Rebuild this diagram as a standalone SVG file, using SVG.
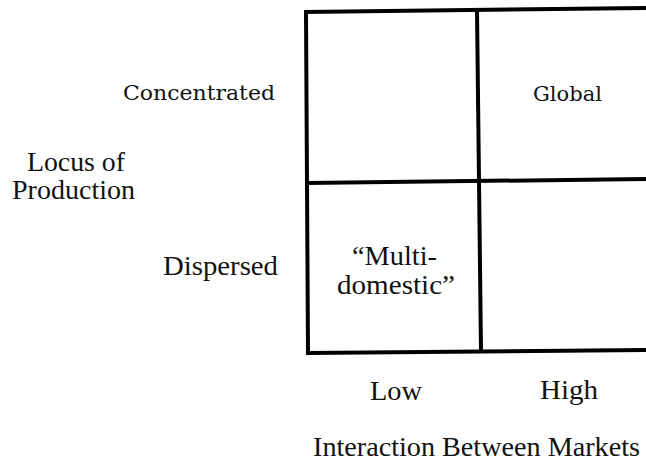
<svg xmlns="http://www.w3.org/2000/svg" width="646" height="468" viewBox="0 0 646 468">
<style>
.g{stroke:#000;stroke-width:4;fill:none;stroke-linecap:square}
.t{font-family:"Liberation Serif","Times New Roman",serif;font-size:27px;fill:#111}
.b{font-family:"DejaVu Serif","Liberation Serif",serif;font-size:20px;fill:#111}
</style>
<rect width="646" height="468" fill="#fff"/>
<g id="grid">
<line class="g" x1="306" y1="12" x2="646" y2="8"/>
<line class="g" x1="306" y1="12" x2="308" y2="353"/>
<line class="g" x1="477" y1="10" x2="481" y2="351"/>
<line class="g" x1="307" y1="183" x2="646" y2="179"/>
<line class="g" x1="308" y1="353" x2="646" y2="350"/>
</g>
<g id="cell-global"><text class="b" x="533" y="101" textLength="69" lengthAdjust="spacingAndGlyphs">Global</text></g>
<g id="cell-multidomestic">
<text class="t" x="352" y="265" textLength="85" lengthAdjust="spacingAndGlyphs">“Multi-</text>
<text class="t" x="337" y="294" textLength="118" lengthAdjust="spacingAndGlyphs">domestic”</text>
</g>
<g id="row-labels">
<text class="b" x="123" y="100" textLength="152" lengthAdjust="spacingAndGlyphs">Concentrated</text>
<text class="t" x="27" y="171" textLength="98" lengthAdjust="spacingAndGlyphs">Locus of</text>
<text class="t" x="12" y="199" textLength="123" lengthAdjust="spacingAndGlyphs">Production</text>
<text class="t" x="163" y="275" textLength="115" lengthAdjust="spacingAndGlyphs">Dispersed</text>
</g>
<g id="col-labels">
<text class="t" x="370" y="400" textLength="52" lengthAdjust="spacingAndGlyphs">Low</text>
<text class="t" x="540" y="399" textLength="58" lengthAdjust="spacingAndGlyphs">High</text>
<text class="t" x="313" y="456" textLength="327" lengthAdjust="spacingAndGlyphs">Interaction Between Markets</text>
</g>
</svg>
